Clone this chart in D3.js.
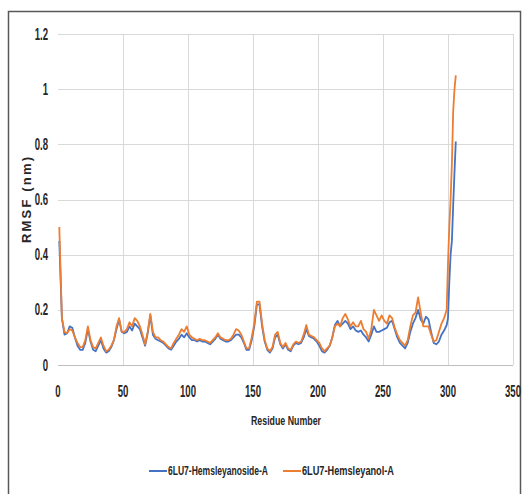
<!DOCTYPE html>
<html>
<head>
<meta charset="utf-8">
<script src="https://cdn.jsdelivr.net/npm/d3@7"></script>
<style>
  body { margin: 0; background: #fff; }
  svg { display: block; }
  text { font-family: "Liberation Sans", Arial, sans-serif; fill: #262626; font-weight: bold; }
</style>
</head>
<body>
<div id="chart"></div>
<script>
// residue numbers (x)
var residues = [1,3,5,7,9,11,13,15,17,19,21,23,25,27,29,31,33,35,37,39,41,43,45,47,49,
  51,53,55,57,59,61,63,65,67,69,71,73,75,77,79,81,83,85,87,89,91,93,95,97,99,
  101,103,105,107,109,111,113,115,117,119,121,123,125,127,129,131,133,135,137,139,
  141,143,145,147,149,151,153,155,157,159,161,163,165,167,169,171,173,175,177,179,
  181,183,185,187,189,191,193,195,197,199,201,203,205,207,209,211,213,215,217,219,
  221,223,225,227,229,231,233,235,237,239,241,243,245,247,249,251,253,255,257,259,
  261,263,265,267,269,271,273,275,277,279,281,283,285,287,289,291,293,295,297,299,
  300,301,302,303,304,305,306];

// 6LU7-Hemsleyanoside-A
var hemsleyanoside = [0.45,0.17,0.11,0.115,0.14,0.135,0.10,0.07,0.055,0.055,0.08,0.13,0.085,0.055,0.05,0.07,0.09,0.06,0.045,0.05,0.065,0.09,0.13,0.165,0.12,
  0.115,0.12,0.14,0.125,0.15,0.14,0.13,0.10,0.07,0.115,0.18,0.11,0.095,0.09,0.085,0.08,0.07,0.06,0.055,0.07,0.085,0.095,0.11,0.10,0.115,
  0.10,0.09,0.09,0.085,0.09,0.085,0.085,0.08,0.075,0.085,0.095,0.11,0.095,0.09,0.085,0.085,0.09,0.10,0.11,0.11,
  0.10,0.08,0.055,0.055,0.09,0.14,0.22,0.22,0.14,0.085,0.055,0.045,0.06,0.10,0.11,0.075,0.06,0.075,0.055,0.05,
  0.07,0.08,0.075,0.08,0.10,0.13,0.105,0.10,0.095,0.085,0.07,0.05,0.045,0.055,0.07,0.10,0.145,0.16,0.14,0.15,
  0.16,0.15,0.13,0.14,0.125,0.12,0.125,0.11,0.10,0.085,0.11,0.14,0.12,0.12,0.125,0.13,0.135,0.155,0.16,0.13,
  0.10,0.08,0.07,0.06,0.08,0.12,0.15,0.17,0.20,0.165,0.15,0.175,0.165,0.12,0.08,0.075,0.085,0.11,0.125,0.145,
  0.17,0.30,0.40,0.45,0.58,0.70,0.81];

// 6LU7-Hemsleyanol-A
var hemsleyanol = [0.50,0.17,0.12,0.115,0.13,0.125,0.10,0.08,0.065,0.065,0.09,0.14,0.09,0.065,0.06,0.08,0.10,0.07,0.05,0.055,0.07,0.09,0.14,0.17,0.12,
  0.12,0.13,0.155,0.14,0.17,0.16,0.14,0.11,0.075,0.12,0.185,0.12,0.10,0.10,0.09,0.085,0.075,0.065,0.06,0.08,0.095,0.11,0.13,0.12,0.14,
  0.11,0.10,0.095,0.09,0.095,0.09,0.09,0.085,0.08,0.09,0.10,0.115,0.10,0.095,0.09,0.09,0.095,0.11,0.13,0.125,
  0.11,0.085,0.06,0.06,0.10,0.15,0.23,0.23,0.15,0.09,0.06,0.05,0.065,0.11,0.12,0.08,0.065,0.08,0.06,0.055,
  0.075,0.085,0.08,0.085,0.11,0.145,0.11,0.105,0.10,0.09,0.08,0.06,0.05,0.06,0.07,0.10,0.14,0.15,0.14,0.17,
  0.185,0.165,0.14,0.155,0.14,0.14,0.16,0.13,0.12,0.095,0.13,0.20,0.18,0.16,0.18,0.16,0.15,0.18,0.17,0.135,
  0.11,0.09,0.08,0.07,0.09,0.14,0.18,0.19,0.245,0.19,0.14,0.14,0.14,0.11,0.085,0.09,0.12,0.15,0.17,0.20,
  0.37,0.50,0.60,0.73,0.92,1.00,1.05];

var xTicks = [0,50,100,150,200,250,300,350];
var yTicks = [0,0.2,0.4,0.6,0.8,1,1.2];
var seriesNames = ["6LU7-Hemsleyanoside-A", "6LU7-Hemsleyanol-A"];
var seriesColors = ["#4472C4", "#ED7D31"];

var width = 523, height = 494;
var margin = {left: 58, right: 9, top: 34, bottom: 129};

var svg = d3.select("#chart").append("svg")
  .attr("width", width).attr("height", height);

svg.append("rect").attr("x", 0).attr("y", 0).attr("width", width).attr("height", height).attr("fill", "#fff");
// chart frame
svg.append("rect").attr("x", 8.5).attr("y", 11.5).attr("width", 512).attr("height", 490)
  .attr("fill", "none").attr("stroke", "#595959").attr("stroke-width", 1.5);

var x = d3.scaleLinear().domain([0, 350]).range([margin.left, width - margin.right - 1]);
var y = d3.scaleLinear().domain([0, 1.2]).range([height - margin.bottom, margin.top]);

// the original export is squeezed sideways, so labels are narrow
function narrowText(parent, px, py, sx, txt, size, anchor) {
  return parent.append("text")
    .attr("transform", "translate(" + px + "," + py + ") scale(" + sx + ",1)")
    .attr("text-anchor", anchor).attr("font-size", size)
    .text(txt);
}

// gridlines
svg.append("g").selectAll("line").data(yTicks.slice(1)).enter().append("line")
  .attr("x1", x(0)).attr("x2", x(350))
  .attr("y1", d => Math.round(y(d)) + 0.5).attr("y2", d => Math.round(y(d)) + 0.5)
  .attr("stroke", "#d9d9d9").attr("stroke-width", 1);
svg.append("g").selectAll("line").data(xTicks.slice(1)).enter().append("line")
  .attr("x1", d => Math.round(x(d)) + 0.5).attr("x2", d => Math.round(x(d)) + 0.5)
  .attr("y1", y(1.2)).attr("y2", y(0))
  .attr("stroke", "#d9d9d9").attr("stroke-width", 1);
// baseline
svg.append("line").attr("x1", x(0)).attr("x2", x(350))
  .attr("y1", Math.round(y(0)) + 0.5).attr("y2", Math.round(y(0)) + 0.5)
  .attr("stroke", "#bfbfbf").attr("stroke-width", 1);

// tick labels
var yLab = svg.append("g");
yTicks.forEach(function (d) {
  narrowText(yLab, 48, y(d) + 5.5, 0.6, d3.format("~g")(d), 16, "end");
});
var xLab = svg.append("g");
xTicks.forEach(function (d) {
  narrowText(xLab, x(d), 397, 0.6, d, 16, "middle");
});

// axis titles
svg.append("text").attr("transform", "translate(31,200) rotate(-90)")
  .attr("text-anchor", "middle").attr("font-size", 13)
  .attr("textLength", 86).attr("lengthAdjust", "spacing")
  .text("RMSF (nm)");
svg.append("text").attr("x", 286).attr("y", 425)
  .attr("text-anchor", "middle").attr("font-size", 13)
  .attr("textLength", 70).attr("lengthAdjust", "spacingAndGlyphs")
  .text("Residue Number");

// lines
var line = d3.line().x(d => x(d[0])).y(d => y(d[1]));
[hemsleyanoside, hemsleyanol].forEach(function (vals, i) {
  svg.append("path")
    .datum(residues.map((r, k) => [r, vals[k]]))
    .attr("fill", "none").attr("stroke", seriesColors[i])
    .attr("stroke-width", 1.8).attr("stroke-linejoin", "round")
    .attr("d", line);
});

// legend
var legendX = [149, 283];
var legendW = [100, 92];
seriesNames.forEach(function (name, i) {
  var g = svg.append("g").attr("transform", "translate(" + legendX[i] + ",471)");
  g.append("line").attr("x1", 0).attr("x2", 18).attr("y1", 0).attr("y2", 0)
    .attr("stroke", seriesColors[i]).attr("stroke-width", 2);
  g.append("text").attr("x", 19).attr("y", 0).attr("dy", "0.36em")
    .attr("font-size", 12)
    .attr("textLength", legendW[i]).attr("lengthAdjust", "spacingAndGlyphs")
    .text(name);
});
</script>
</body>
</html>
